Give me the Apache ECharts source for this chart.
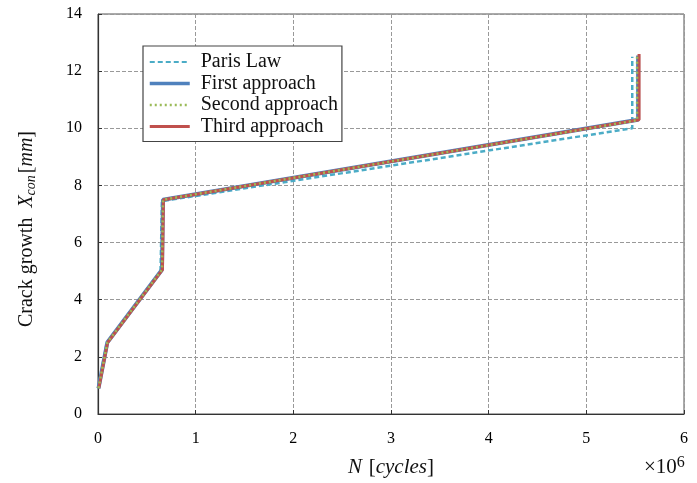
<!DOCTYPE html>
<html><head><meta charset="utf-8">
<script src="https://cdn.jsdelivr.net/npm/echarts@6/dist/echarts.min.js"></script>
<style>html,body{margin:0;padding:0;background:#fff}#c{width:697px;height:483px}</style>
</head><body><div id="c"></div>
<script>
const seriesNames = ['Paris Law', 'First approach', 'Second approach', 'Third approach'];
const parisN  = [0.0,   0.09, 0.64, 0.655, 5.47, 5.47];
const parisX  = [0.9,   2.5,  5.0,  7.45,  10.0, 12.5];
const firstN  = [0.005, 0.095, 0.655, 0.665, 5.53, 5.53];
const firstX  = [0.9,   2.5,  5.05,  7.5,   10.3, 12.55];
const secondN = [0.005, 0.095, 0.655, 0.665, 5.52, 5.52];
const secondX = [0.9,   2.5,  5.05,  7.5,   10.28, 12.5];
const thirdN  = [0.008, 0.098, 0.66,  0.67,  5.54, 5.54];
const thirdX  = [0.9,   2.5,  5.05,  7.5,   10.3, 12.6];
const xTicks = [0, 1, 2, 3, 4, 5, 6];
const yTicks = [0, 2, 4, 6, 8, 10, 12, 14];
const legendWidths = [2, 3.5, 2.5, 3];

const pairs = (n, x) => n.map((v, i) => [v, x[i]]);
const serif = '"Liberation Serif", "DejaVu Serif", serif';

const chart = echarts.init(document.getElementById('c'));
chart.setOption({
  animation: false,
  backgroundColor: '#fff',
  grid: { left: 98, right: 13, top: 14, bottom: 69, show: true, borderColor: '#555', borderWidth: 1 },
  legend: {
    orient: 'vertical', left: 143, top: 46,
    backgroundColor: '#fff', borderColor: '#444', borderWidth: 1.2,
    padding: [6, 4, 5, 5], itemGap: 1.5, itemWidth: 40, itemHeight: 20,
    itemStyle: { opacity: 0 },
    textStyle: { fontFamily: serif, fontSize: 20, color: '#111', padding: [0, 0, 0, 6] },
    data: seriesNames.map((n, i) => ({ name: n, lineStyle: { width: legendWidths[i] } }))
  },
  xAxis: {
    type: 'value', min: xTicks[0], max: xTicks[xTicks.length - 1], interval: 1,
    axisLine: { lineStyle: { color: '#333', width: 1.2 } },
    axisTick: { inside: true, length: 4, lineStyle: { color: '#333' } },
    axisLabel: { fontFamily: serif, fontSize: 16, color: '#000', margin: 17 },
    splitLine: { show: true, lineStyle: { type: 'dashed', color: '#999' } },
    name: '{i|N}  {n|[}{i|cycles}{n|]}',
    nameLocation: 'middle', nameGap: 43,
    nameTextStyle: { rich: {
      i: { fontFamily: serif, fontStyle: 'italic', fontSize: 21, color: '#111' },
      n: { fontFamily: serif, fontSize: 21, color: '#111' } } }
  },
  yAxis: {
    type: 'value', min: yTicks[0], max: yTicks[yTicks.length - 1], interval: 2,
    axisLine: { lineStyle: { color: '#333', width: 1.2 } },
    axisTick: { show: true, inside: true, length: 4, lineStyle: { color: '#333' } },
    axisLabel: { fontFamily: serif, fontSize: 16, color: '#000', margin: 16 },
    splitLine: { show: true, lineStyle: { type: 'dashed', color: '#999' } },
    name: '{n|Crack growth  }{i|X}{s|con}{n|[}{i|mm}{n|]}',
    nameLocation: 'middle', nameGap: 60,
    nameTextStyle: { padding: [0, 30, 0, 0], rich: {
      i: { fontFamily: serif, fontStyle: 'italic', fontSize: 20, color: '#111' },
      s: { fontFamily: serif, fontStyle: 'italic', fontSize: 14, color: '#111', verticalAlign: 'bottom', padding: [8, 2, 0, 0] },
      n: { fontFamily: serif, fontSize: 20, color: '#111' } } }
  },
  graphic: [{
    type: 'text', left: 644, top: 455,
    style: { text: '{n|×10}{s|6}', rich: {
      n: { fontFamily: serif, fontSize: 21, fill: '#111' },
      s: { fontFamily: serif, fontSize: 16, fill: '#111', verticalAlign: 'top', padding: [0, 0, 8, 0] } } }
  }],
  series: [
    { name: seriesNames[0], type: 'line', symbol: 'none', z: 2, data: pairs(parisN, parisX),
      lineStyle: { color: '#4bacc6', width: 2.5, type: [5, 3] }, itemStyle: { color: '#4bacc6' } },
    { name: seriesNames[1], type: 'line', symbol: 'none', z: 3, data: pairs(firstN, firstX),
      lineStyle: { color: '#4f81bd', width: 4 }, itemStyle: { color: '#4f81bd' } },
    { name: seriesNames[2], type: 'line', symbol: 'none', z: 5, data: pairs(secondN, secondX),
      lineStyle: { color: '#9bbb59', width: 2.5, type: [2, 3] }, itemStyle: { color: '#9bbb59' } },
    { name: seriesNames[3], type: 'line', symbol: 'none', z: 4, data: pairs(thirdN, thirdX),
      lineStyle: { color: '#c0504d', width: 3 }, itemStyle: { color: '#c0504d' } }
  ]
});
</script></body></html>
